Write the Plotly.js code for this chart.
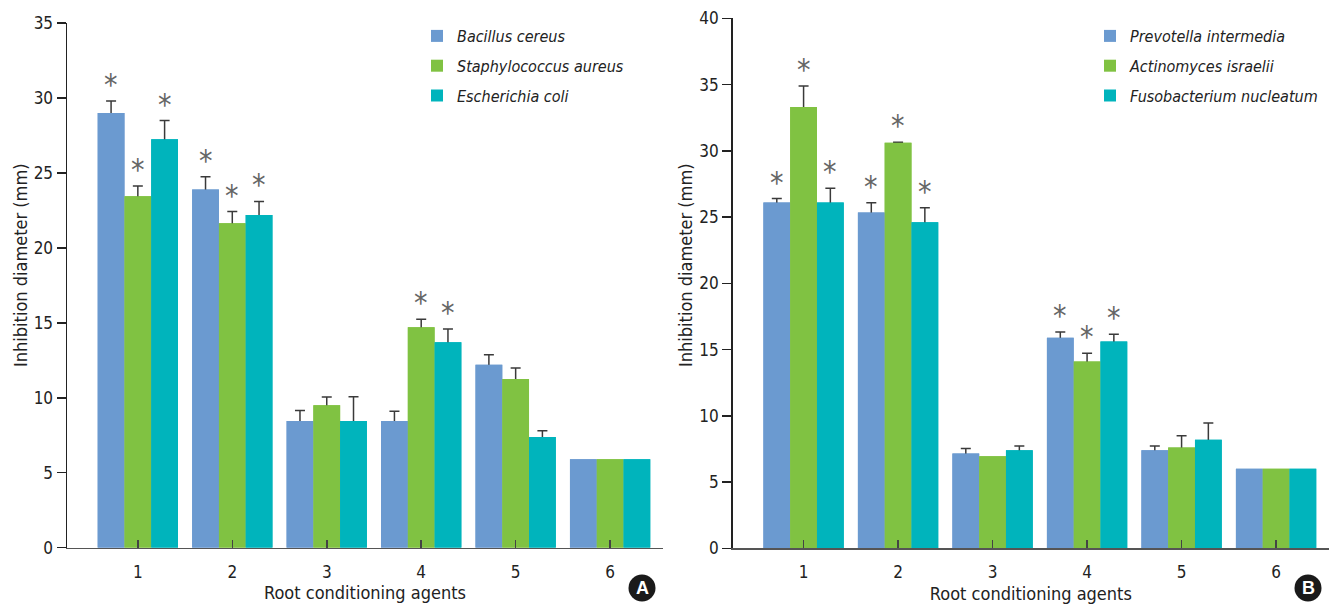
<!DOCTYPE html>
<html>
<head>
<meta charset="utf-8">
<script src="https://cdn.plot.ly/plotly-3.0.1.min.js"></script>
<style>html,body{margin:0;padding:0;background:#fff;}#chart{width:1330px;height:609px;}</style>
</head>
<body>
<div id="chart"></div>
<script>
// ---- data ----
const categories = [1, 2, 3, 4, 5, 6];
const tickLabels = ['1', '2', '3', '4', '5', '6'];
const xTitle = 'Root conditioning agents';
const yTitle = 'Inhibition diameter (mm)';

// Panel A
const namesA = ['Bacillus cereus', 'Staphylococcus aureus', 'Escherichia coli'];
const bacillusVals = [29.0, 23.9, 8.45, 8.45, 12.2, 5.9];
const bacillusErr  = [0.8, 0.85, 0.7, 0.65, 0.67, 0];
const bacillusSig  = [1, 1, 0, 0, 0, 0];
const staphVals = [23.45, 21.65, 9.5, 14.7, 11.25, 5.9];
const staphErr  = [0.67, 0.77, 0.55, 0.54, 0.73, 0];
const staphSig  = [1, 1, 0, 1, 0, 0];
const ecoliVals = [27.25, 22.2, 8.45, 13.7, 7.38, 5.9];
const ecoliErr  = [1.24, 0.9, 1.62, 0.89, 0.42, 0];
const ecoliSig  = [1, 1, 0, 1, 0, 0];

// Panel B
const namesB = ['Prevotella intermedia', 'Actinomyces israelii', 'Fusobacterium nucleatum'];
const prevotellaVals = [26.1, 25.35, 7.15, 15.9, 7.4, 6.0];
const prevotellaErr  = [0.3, 0.73, 0.38, 0.43, 0.32, 0];
const prevotellaSig  = [1, 1, 0, 1, 0, 0];
const actinoVals = [33.3, 30.6, 6.95, 14.1, 7.6, 6.0];
const actinoErr  = [1.6, 0.05, 0, 0.62, 0.9, 0];
const actinoSig  = [1, 1, 0, 1, 0, 0];
const fusoVals = [26.1, 24.6, 7.4, 15.6, 8.2, 6.0];
const fusoErr  = [1.08, 1.11, 0.32, 0.55, 1.25, 0];
const fusoSig  = [1, 1, 0, 1, 0, 0];

// ---- style ----
const colors = ['#6b9ad0', '#80c242', '#00b4bc'];
const FONT = "'DejaVu Sans Condensed', 'Liberation Sans Narrow', Roboto, sans-serif";
const BARGAP = 0.15;

const seriesA = [
  {name: namesA[0], y: bacillusVals, e: bacillusErr, s: bacillusSig},
  {name: namesA[1], y: staphVals, e: staphErr, s: staphSig},
  {name: namesA[2], y: ecoliVals, e: ecoliErr, s: ecoliSig}
];
const seriesB = [
  {name: namesB[0], y: prevotellaVals, e: prevotellaErr, s: prevotellaSig},
  {name: namesB[1], y: actinoVals, e: actinoErr, s: actinoSig},
  {name: namesB[2], y: fusoVals, e: fusoErr, s: fusoSig}
];

const errTraces = [];
const barTraces = [];
const annotations = [];
function addPanel(series, xa, ya, legendId, tag) {
  const n = series.length;
  const w = (1 - BARGAP) / n;
  series.forEach((s, i) => {
    // error bars: the lower half sits inside the bar and is hidden by the bars drawn on top
    errTraces.push({
      type: 'bar', name: s.name, x: categories, y: s.y, showlegend: false,
      xaxis: xa, yaxis: ya, offsetgroup: tag + i, hoverinfo: 'skip',
      marker: {color: colors[i], line: {width: 0}},
      error_y: {type: 'data', symmetric: false,
                array: s.e.map(v => v > 0 ? v : NaN),
                arrayminus: s.e.map(v => v > 0 ? Math.max(v, 0.4) : NaN),
                color: '#3a3a3a', thickness: 1.5, width: 5}
    });
    barTraces.push({
      type: 'bar', name: s.name, x: categories, y: s.y,
      xaxis: xa, yaxis: ya, legend: legendId, legendgroup: tag + i, offsetgroup: tag + i,
      marker: {color: colors[i], line: {width: 0}},
      hoverinfo: 'x+y+name'
    });
    s.s.forEach((flag, j) => {
      if (!flag) return;
      annotations.push({
        xref: xa, yref: ya, x: categories[j] + (i - (n - 1) / 2) * w, y: s.y[j] + s.e[j],
        text: '*', showarrow: false, yanchor: 'bottom', yshift: -3,
        font: {family: FONT, size: 30, color: '#666'}
      });
    });
  });
}
addPanel(seriesA, 'x', 'y', 'legend', 'a');
addPanel(seriesB, 'x2', 'y2', 'legend2', 'b');
const traces = errTraces.concat(barTraces);

const W = 1330, H = 609;
function xAxis(domain) {
  return {
    domain: domain, range: [0.25, 6.56], tickvals: categories, ticktext: tickLabels,
    ticks: 'inside', ticklen: 8, tickwidth: 1.5, tickcolor: '#444',
    showline: true, linecolor: '#555', linewidth: 1.5, showgrid: false, zeroline: false,
    tickfont: {family: FONT, size: 17, color: '#222'}, ticklabelstandoff: 8,
    title: {text: xTitle, font: {family: FONT, size: 18, color: '#222'}, standoff: 6},
    automargin: false, fixedrange: true
  };
}
function yAxis(domain, range) {
  return {
    domain: domain, range: range, dtick: 5, tick0: 0,
    ticks: 'outside', ticklen: 9, tickwidth: 1.5, tickcolor: '#222',
    showline: true, linecolor: '#222', linewidth: 1.5, showgrid: false, zeroline: false,
    tickfont: {family: FONT, size: 17, color: '#222'},
    automargin: false, fixedrange: true
  };
}
function yTitleAnn(px) {
  return {xref: 'paper', yref: 'paper', x: px / W, y: 1 - 265 / H, text: yTitle, textangle: -90,
          showarrow: false, xanchor: 'center', yanchor: 'middle',
          font: {family: FONT, size: 18, color: '#222'}};
}
function badge(px, letter) {
  return {xref: 'paper', yref: 'paper', x: px / W, y: 1 - 588 / H, text: '<b>' + letter + '</b>', showarrow: false,
          xanchor: 'center', yanchor: 'middle', font: {family: 'Liberation Sans, Arial, sans-serif', size: 18, color: '#fff'}};
}
function circle(px) {
  return {type: 'circle', xref: 'paper', yref: 'paper', xsizemode: 'pixel', ysizemode: 'pixel',
          xanchor: px / W, yanchor: 1 - 588 / H, x0: -13.5, x1: 13.5, y0: -13.5, y1: 13.5,
          fillcolor: '#1a1a1a', line: {width: 0}};
}

const layout = {
  width: W, height: H, margin: {l: 0, r: 0, t: 0, b: 0},
  paper_bgcolor: '#fff', plot_bgcolor: '#fff',
  barmode: 'group', bargap: BARGAP, bargroupgap: 0,
  font: {family: FONT, color: '#222'},
  xaxis: Object.assign(xAxis([67 / W, 663 / W]), {anchor: 'y'}),
  yaxis: Object.assign(yAxis([1 - 547.7 / H, 1 - 23 / H], [0, 35]), {anchor: 'x'}),
  xaxis2: Object.assign(xAxis([732.7 / W, 1329 / W]), {anchor: 'y2'}),
  yaxis2: Object.assign(yAxis([1 - 548.3 / H, 1 - 18.3 / H], [0, 40]), {anchor: 'x2'}),
  legend: {x: 417 / W, y: 1 - 19 / H, xanchor: 'left', yanchor: 'top', bgcolor: 'rgba(0,0,0,0)',
           font: {family: FONT, size: 16, style: 'italic', color: '#222'}, tracegroupgap: 6},
  legend2: {x: 1090 / W, y: 1 - 19 / H, xanchor: 'left', yanchor: 'top', bgcolor: 'rgba(0,0,0,0)',
            font: {family: FONT, size: 16, style: 'italic', color: '#222'}, tracegroupgap: 6},
  shapes: [circle(642), circle(1308)],
  annotations: annotations.concat([yTitleAnn(20), yTitleAnn(685), badge(642, 'A'), badge(1308, 'B')])
};

Plotly.newPlot('chart', traces, layout, {displayModeBar: false, staticPlot: true});
</script>
</body>
</html>
